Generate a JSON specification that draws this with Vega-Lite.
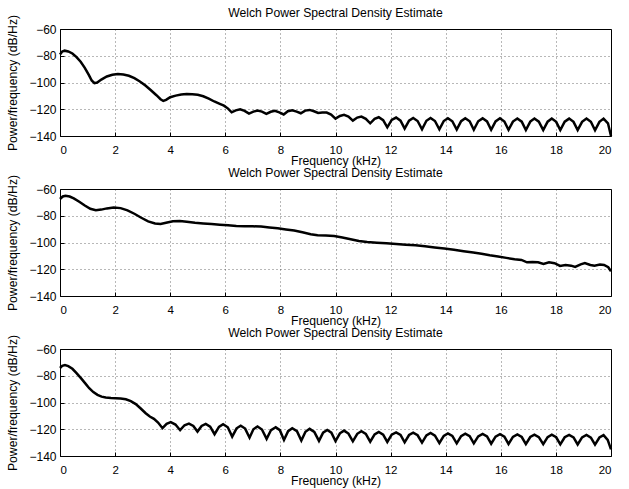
{
  "$schema": "https://vega.github.io/schema/vega-lite/v6.json",
  "background": "white",
  "padding": {"left": 6, "top": 6, "right": 5, "bottom": 3},
  "spacing": 53,
  "bounds": "flush",
  "config": {
    "font": "Liberation Sans",
    "view": {"stroke": "#000", "strokeWidth": 1},
    "axis": {
      "labelFont": "Liberation Sans",
      "titleFont": "Liberation Sans",
      "labelFontSize": 12,
      "titleFontSize": 12.2,
      "labelColor": "#000",
      "titleColor": "#000",
      "titleFontWeight": "normal",
      "domain": false,
      "ticks": true,
      "tickSize": -4,
      "tickColor": "#000",
      "tickWidth": 1,
      "labelPadding": 8,
      "grid": true,
      "gridColor": "#000",
      "gridDash": [1, 3],
      "gridOpacity": 0.7,
      "gridWidth": 0.8
    },
    "axisX": {"labelPadding": 12, "titlePadding": -1, "labelFontSize": 11.5},
    "axisY": {"titlePadding": 9},
    "title": {"font": "Liberation Sans", "fontSize": 12.2, "fontWeight": "normal", "color": "#000", "offset": -5}
  },
  "datasets": {
    "psd1": [
      {"f":0.00,"v":-79.0},{"f":0.08,"v":-76.8},{"f":0.17,"v":-76.2},{"f":0.30,"v":-76.8},{"f":0.45,"v":-78.3},
      {"f":0.60,"v":-81.0},{"f":0.75,"v":-84.5},{"f":0.90,"v":-89.0},{"f":1.05,"v":-94.5},{"f":1.15,"v":-98.5},
      {"f":1.25,"v":-100.5},{"f":1.35,"v":-100.0},{"f":1.50,"v":-97.8},{"f":1.70,"v":-95.5},{"f":1.90,"v":-94.2},
      {"f":2.10,"v":-93.7},{"f":2.30,"v":-94.0},{"f":2.50,"v":-95.0},{"f":2.70,"v":-96.8},{"f":2.90,"v":-99.2},
      {"f":3.10,"v":-102.3},{"f":3.30,"v":-105.8},{"f":3.50,"v":-109.5},{"f":3.65,"v":-112.5},{"f":3.75,"v":-113.8},
      {"f":3.85,"v":-113.0},{"f":4.00,"v":-111.0},{"f":4.20,"v":-109.8},{"f":4.40,"v":-109.0},{"f":4.60,"v":-108.6},
      {"f":4.80,"v":-108.7},{"f":5.00,"v":-109.2},{"f":5.20,"v":-110.3},{"f":5.40,"v":-112.0},{"f":5.60,"v":-114.2},
      {"f":5.80,"v":-116.0},{"f":5.95,"v":-117.3},{"f":6.10,"v":-119.5},{"f":6.23,"v":-122.3},
      {"f":6.38,"v":-120.8},{"f":6.54,"v":-120.0},{"f":6.70,"v":-121.2},{"f":6.86,"v":-123.3},
      {"f":7.02,"v":-121.8},{"f":7.17,"v":-121.0},{"f":7.33,"v":-121.8},{"f":7.49,"v":-123.5},
      {"f":7.65,"v":-121.9},{"f":7.80,"v":-121.2},{"f":7.96,"v":-122.3},{"f":8.12,"v":-123.9},
      {"f":8.27,"v":-121.5},{"f":8.43,"v":-120.8},{"f":8.59,"v":-121.8},{"f":8.74,"v":-123.0},
      {"f":8.90,"v":-121.0},{"f":9.06,"v":-120.5},{"f":9.22,"v":-121.5},{"f":9.37,"v":-122.8},
      {"f":9.52,"v":-122.5},{"f":9.68,"v":-122.5},{"f":9.84,"v":-124.0},{"f":10.00,"v":-127.0},
      {"f":10.16,"v":-125.0},{"f":10.31,"v":-124.2},{"f":10.47,"v":-125.5},{"f":10.63,"v":-128.5},
      {"f":10.79,"v":-126.2},{"f":10.94,"v":-125.5},{"f":11.10,"v":-127.2},{"f":11.26,"v":-130.5},
      {"f":11.42,"v":-127.2},{"f":11.57,"v":-126.0},{"f":11.73,"v":-128.2},{"f":11.88,"v":-133.5},
      {"f":12.04,"v":-128.0},{"f":12.20,"v":-126.2},{"f":12.36,"v":-128.5},{"f":12.51,"v":-134.5},
      {"f":12.67,"v":-128.5},{"f":12.82,"v":-126.5},{"f":12.98,"v":-128.8},{"f":13.14,"v":-135.0},
      {"f":13.30,"v":-128.6},{"f":13.45,"v":-126.5},{"f":13.61,"v":-128.8},{"f":13.77,"v":-135.0},
      {"f":13.93,"v":-128.8},{"f":14.08,"v":-126.7},{"f":14.24,"v":-129.0},{"f":14.40,"v":-135.2},
      {"f":14.56,"v":-128.9},{"f":14.71,"v":-126.7},{"f":14.87,"v":-129.0},{"f":15.02,"v":-135.3},
      {"f":15.18,"v":-129.0},{"f":15.34,"v":-126.8},{"f":15.50,"v":-129.1},{"f":15.65,"v":-135.4},
      {"f":15.81,"v":-129.1},{"f":15.97,"v":-126.8},{"f":16.13,"v":-129.2},{"f":16.28,"v":-135.4},
      {"f":16.44,"v":-129.2},{"f":16.60,"v":-126.9},{"f":16.76,"v":-129.3},{"f":16.91,"v":-135.5},
      {"f":17.07,"v":-129.2},{"f":17.22,"v":-126.9},{"f":17.38,"v":-129.3},{"f":17.54,"v":-135.5},
      {"f":17.70,"v":-129.3},{"f":17.85,"v":-127.0},{"f":18.01,"v":-129.4},{"f":18.16,"v":-135.6},
      {"f":18.32,"v":-129.3},{"f":18.48,"v":-127.0},{"f":18.64,"v":-129.4},{"f":18.79,"v":-135.6},
      {"f":18.95,"v":-129.4},{"f":19.11,"v":-127.0},{"f":19.27,"v":-129.4},{"f":19.42,"v":-135.7},
      {"f":19.58,"v":-129.4},{"f":19.73,"v":-127.0},{"f":19.89,"v":-130.5},{"f":20.00,"v":-140.0}
    ],
    "psd2": [
      {"f":0.00,"v":-67.5},{"f":0.10,"v":-65.6},{"f":0.20,"v":-65.0},{"f":0.35,"v":-65.6},{"f":0.50,"v":-67.0},
      {"f":0.70,"v":-69.5},{"f":0.90,"v":-72.3},{"f":1.10,"v":-74.8},{"f":1.30,"v":-75.8},{"f":1.50,"v":-75.4},
      {"f":1.70,"v":-74.5},{"f":1.95,"v":-73.8},{"f":2.20,"v":-74.3},{"f":2.45,"v":-76.0},{"f":2.70,"v":-78.5},
      {"f":2.95,"v":-81.5},{"f":3.20,"v":-84.2},{"f":3.45,"v":-85.8},{"f":3.65,"v":-86.2},{"f":3.85,"v":-85.3},
      {"f":4.10,"v":-84.2},{"f":4.35,"v":-84.0},{"f":4.60,"v":-84.5},{"f":4.90,"v":-85.3},{"f":5.20,"v":-85.8},
      {"f":5.50,"v":-86.2},{"f":5.80,"v":-86.7},{"f":6.10,"v":-87.1},{"f":6.40,"v":-87.6},{"f":6.70,"v":-87.9},
      {"f":7.00,"v":-87.9},{"f":7.30,"v":-88.1},{"f":7.60,"v":-88.7},{"f":7.90,"v":-89.4},{"f":8.20,"v":-90.2},
      {"f":8.50,"v":-91.0},{"f":8.80,"v":-92.3},{"f":9.10,"v":-93.8},{"f":9.35,"v":-94.5},{"f":9.65,"v":-94.7},
      {"f":9.95,"v":-95.2},{"f":10.25,"v":-96.2},{"f":10.55,"v":-97.5},{"f":10.85,"v":-98.8},{"f":11.15,"v":-99.6},
      {"f":11.50,"v":-100.1},{"f":11.85,"v":-100.6},{"f":12.20,"v":-101.1},{"f":12.55,"v":-101.6},{"f":12.90,"v":-102.0},
      {"f":13.25,"v":-102.8},{"f":13.60,"v":-103.7},{"f":13.95,"v":-104.5},{"f":14.30,"v":-105.4},{"f":14.65,"v":-106.5},
      {"f":15.00,"v":-107.5},{"f":15.30,"v":-108.4},{"f":15.60,"v":-109.5},{"f":15.90,"v":-110.4},{"f":16.20,"v":-111.5},
      {"f":16.50,"v":-112.6},{"f":16.75,"v":-113.0},{"f":16.95,"v":-114.8},{"f":17.15,"v":-114.5},{"f":17.35,"v":-114.8},
      {"f":17.55,"v":-116.0},{"f":17.75,"v":-114.8},{"f":17.95,"v":-115.5},{"f":18.15,"v":-117.5},{"f":18.35,"v":-116.8},
      {"f":18.55,"v":-117.3},{"f":18.70,"v":-118.3},{"f":18.90,"v":-116.3},{"f":19.05,"v":-115.3},{"f":19.25,"v":-116.8},
      {"f":19.40,"v":-117.3},{"f":19.60,"v":-116.5},{"f":19.75,"v":-116.8},{"f":19.90,"v":-118.5},{"f":20.00,"v":-121.5}
    ],
    "psd3": [
      {"f":0.00,"v":-74.2},{"f":0.08,"v":-72.6},{"f":0.18,"v":-72.0},{"f":0.30,"v":-72.8},{"f":0.45,"v":-74.8},
      {"f":0.60,"v":-78.0},{"f":0.76,"v":-81.8},{"f":0.91,"v":-85.5},{"f":1.06,"v":-89.3},{"f":1.21,"v":-92.2},
      {"f":1.36,"v":-94.3},{"f":1.51,"v":-95.6},{"f":1.66,"v":-96.3},{"f":1.85,"v":-96.7},{"f":2.02,"v":-96.8},
      {"f":2.20,"v":-97.0},{"f":2.39,"v":-97.6},{"f":2.57,"v":-99.0},{"f":2.75,"v":-101.2},{"f":2.93,"v":-104.5},
      {"f":3.11,"v":-108.0},{"f":3.26,"v":-110.5},{"f":3.41,"v":-112.2},{"f":3.56,"v":-115.0},{"f":3.72,"v":-119.2},
      {"f":3.87,"v":-116.0},{"f":4.02,"v":-114.7},{"f":4.19,"v":-116.5},{"f":4.36,"v":-120.7},
      {"f":4.52,"v":-117.0},{"f":4.68,"v":-115.8},{"f":4.84,"v":-117.5},{"f":4.99,"v":-121.7},
      {"f":5.14,"v":-117.5},{"f":5.29,"v":-116.0},{"f":5.45,"v":-118.0},{"f":5.61,"v":-123.7},
      {"f":5.77,"v":-118.2},{"f":5.92,"v":-116.3},{"f":6.09,"v":-118.5},{"f":6.25,"v":-125.5},
      {"f":6.41,"v":-119.3},{"f":6.56,"v":-117.3},{"f":6.72,"v":-119.5},{"f":6.88,"v":-126.3},
      {"f":7.02,"v":-120.0},{"f":7.17,"v":-118.0},{"f":7.33,"v":-120.2},{"f":7.50,"v":-127.2},
      {"f":7.66,"v":-120.6},{"f":7.83,"v":-118.5},{"f":7.98,"v":-120.7},{"f":8.13,"v":-128.0},
      {"f":8.28,"v":-121.4},{"f":8.43,"v":-119.2},{"f":8.60,"v":-121.4},{"f":8.76,"v":-128.5},
      {"f":8.91,"v":-121.9},{"f":9.06,"v":-119.7},{"f":9.23,"v":-122.0},{"f":9.40,"v":-128.7},
      {"f":9.55,"v":-122.5},{"f":9.70,"v":-120.5},{"f":9.85,"v":-122.5},{"f":10.00,"v":-128.8},
      {"f":10.16,"v":-123.0},{"f":10.31,"v":-121.0},{"f":10.47,"v":-123.2},{"f":10.63,"v":-129.0},
      {"f":10.79,"v":-123.4},{"f":10.94,"v":-121.5},{"f":11.10,"v":-123.5},{"f":11.26,"v":-129.3},
      {"f":11.42,"v":-123.8},{"f":11.57,"v":-122.0},{"f":11.73,"v":-124.0},{"f":11.88,"v":-129.5},
      {"f":12.04,"v":-124.0},{"f":12.20,"v":-122.3},{"f":12.36,"v":-124.2},{"f":12.51,"v":-129.8},
      {"f":12.67,"v":-124.3},{"f":12.82,"v":-122.5},{"f":12.98,"v":-124.5},{"f":13.14,"v":-130.0},
      {"f":13.30,"v":-124.6},{"f":13.45,"v":-122.8},{"f":13.61,"v":-124.8},{"f":13.77,"v":-130.3},
      {"f":13.93,"v":-124.9},{"f":14.08,"v":-123.1},{"f":14.24,"v":-125.0},{"f":14.40,"v":-130.5},
      {"f":14.56,"v":-125.1},{"f":14.71,"v":-123.3},{"f":14.87,"v":-125.2},{"f":15.02,"v":-130.6},
      {"f":15.18,"v":-125.3},{"f":15.34,"v":-123.5},{"f":15.50,"v":-125.4},{"f":15.65,"v":-130.8},
      {"f":15.81,"v":-125.5},{"f":15.97,"v":-123.7},{"f":16.13,"v":-125.6},{"f":16.28,"v":-131.0},
      {"f":16.44,"v":-125.7},{"f":16.60,"v":-123.9},{"f":16.76,"v":-125.8},{"f":16.91,"v":-131.1},
      {"f":17.07,"v":-125.8},{"f":17.22,"v":-124.0},{"f":17.38,"v":-125.9},{"f":17.54,"v":-131.2},
      {"f":17.70,"v":-125.9},{"f":17.85,"v":-124.1},{"f":18.01,"v":-126.0},{"f":18.16,"v":-131.3},
      {"f":18.32,"v":-126.0},{"f":18.48,"v":-124.2},{"f":18.64,"v":-126.1},{"f":18.79,"v":-131.4},
      {"f":18.95,"v":-126.1},{"f":19.11,"v":-124.3},{"f":19.27,"v":-126.2},{"f":19.42,"v":-131.5},
      {"f":19.58,"v":-126.2},{"f":19.73,"v":-124.4},{"f":19.88,"v":-128.0},{"f":20.00,"v":-135.0}
    ]
  },
  "vconcat": [
    {
      "width": 551, "height": 107,
      "title": "Welch Power Spectral Density Estimate",
      "data": {"name": "psd1"},
      "mark": {"type": "line", "color": "#000", "strokeWidth": 2.5},
      "encoding": {
        "x": {"field": "f", "type": "quantitative", "scale": {"domain": [0, 20], "nice": false},
              "axis": {"title": "Frequency (kHz)", "values": [0,2,4,6,8,10,12,14,16,18,20]}},
        "y": {"field": "v", "type": "quantitative", "scale": {"domain": [-140, -60], "nice": false, "zero": false},
              "axis": {"title": "Power/frequency (dB/Hz)", "values": [-140,-120,-100,-80,-60]}}
      }
    },
    {
      "width": 551, "height": 107,
      "title": "Welch Power Spectral Density Estimate",
      "data": {"name": "psd2"},
      "mark": {"type": "line", "color": "#000", "strokeWidth": 2.5},
      "encoding": {
        "x": {"field": "f", "type": "quantitative", "scale": {"domain": [0, 20], "nice": false},
              "axis": {"title": "Frequency (kHz)", "values": [0,2,4,6,8,10,12,14,16,18,20]}},
        "y": {"field": "v", "type": "quantitative", "scale": {"domain": [-140, -60], "nice": false, "zero": false},
              "axis": {"title": "Power/frequency (dB/Hz)", "values": [-140,-120,-100,-80,-60]}}
      }
    },
    {
      "width": 551, "height": 107,
      "title": "Welch Power Spectral Density Estimate",
      "data": {"name": "psd3"},
      "mark": {"type": "line", "color": "#000", "strokeWidth": 2.5},
      "encoding": {
        "x": {"field": "f", "type": "quantitative", "scale": {"domain": [0, 20], "nice": false},
              "axis": {"title": "Frequency (kHz)", "values": [0,2,4,6,8,10,12,14,16,18,20]}},
        "y": {"field": "v", "type": "quantitative", "scale": {"domain": [-140, -60], "nice": false, "zero": false},
              "axis": {"title": "Power/frequency (dB/Hz)", "values": [-140,-120,-100,-80,-60]}}
      }
    }
  ]
}
